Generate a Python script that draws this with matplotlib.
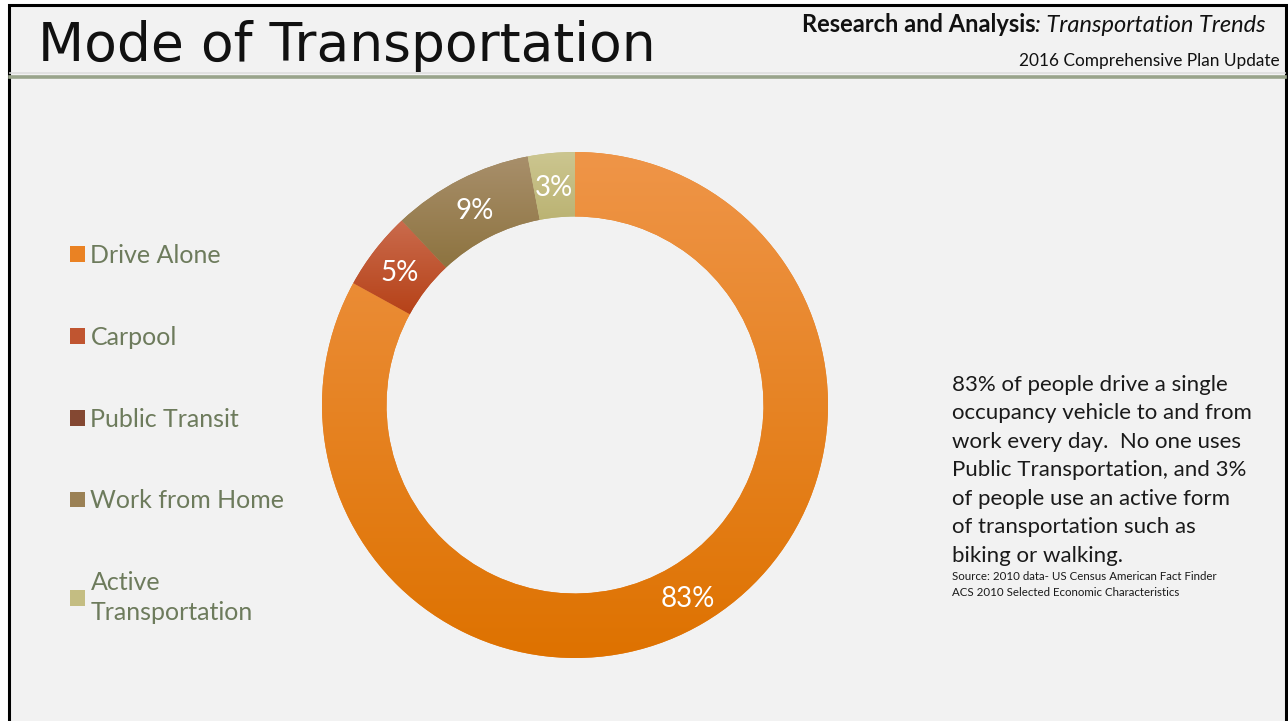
import matplotlib.pyplot as plt
import matplotlib.patches as mpatches
from matplotlib.colors import LinearSegmentedColormap
import numpy as np

# data
modes = ['Drive Alone', 'Carpool', 'Public Transit', 'Work from Home', 'Active\nTransportation']
shares = [83, 5, 0, 9, 3]
# (top, bottom) gradient colours for each wedge
grad_colors = [('#ef9548', '#de7200'),
               ('#ca6b4d', '#b64218'),
               ('#8e5542', '#7a3b24'),
               ('#a88f6b', '#8d733f'),
               ('#ccc690', '#bbb373')]
flat_colors = ['#ea8223', '#c05530', '#844832', '#9b8155', '#c4bd82']

summary = ("83% of people drive a single\n"
           "occupancy vehicle to and from\n"
           "work every day.  No one uses\n"
           "Public Transportation, and 3%\n"
           "of people use an active form\n"
           "of transportation such as\n"
           "biking or walking.")
source = "Source: 2010 data- US Census American Fact Finder\nACS 2010 Selected Economic Characteristics"

W, H = 1288, 721
plt.rcParams['font.family'] = ['Lato', 'DejaVu Sans']


def px(x, y):
    return x / W, 1 - y / H


fig = plt.figure(figsize=(W / 100, H / 100), dpi=100, facecolor='white')

# slide background + border
bg = mpatches.Rectangle(px(9, 760), (1286 - 9) / W, (760 - 5) / H, transform=fig.transFigure,
                        facecolor='#f2f2f2', edgecolor='black', linewidth=2.2, zorder=-5)
fig.patches.append(bg)
fig.add_artist(plt.Line2D([10 / W, 1285 / W], [1 - 73 / H] * 2, color='#dedede', lw=1.2))
fig.add_artist(plt.Line2D([10 / W, 1285 / W], [1 - 76.5 / H] * 2, color='#99a48b', lw=2.6))

# header
fig.text(*px(38, 61), 'Mode of Transportation', fontsize=38.5, color='#111111',
         family='DejaVu Sans', ha='left', va='baseline')
t_it = fig.text(*px(1266, 32), ': Transportation Trends', fontsize=17, style='italic',
                color='#111111', ha='right', va='baseline')
fig.canvas.draw()
bb = t_it.get_window_extent(fig.canvas.get_renderer())
fig.text(bb.x0 / W, 1 - 32 / H, 'Research and Analysis', fontsize=17, fontweight='bold',
         color='#111111', ha='right', va='baseline')
fig.text(*px(1280, 66), '2016 Comprehensive Plan Update', fontsize=12.4, color='#111111',
         ha='right', va='baseline')

# donut
cx, cy, r = 575, 405, 253
ax = fig.add_axes([(cx - r) / W, 1 - (cy + r) / H, 2 * r / W, 2 * r / H])
wedges, _ = ax.pie(shares, colors=flat_colors, startangle=90, counterclock=False,
                   radius=1, wedgeprops=dict(width=0.255, edgecolor='none'))

grad = np.linspace(0, 1, 256).reshape(-1, 1)
for w, (c_top, c_bot), s in zip(wedges, grad_colors, shares):
    if s == 0:
        continue
    ext = w.get_path().get_extents()
    cmap = LinearSegmentedColormap.from_list('g', [c_top, c_bot])
    im = ax.imshow(grad, cmap=cmap, aspect='auto', origin='upper',
                   extent=[ext.x0, ext.x1, ext.y0, ext.y1], zorder=2)
    im.set_clip_path(w)

# percentage labels
total = sum(shares)
start = 90.0
for s in shares:
    if s > 0:
        mid = np.deg2rad(start - 360 * s / total / 2)
        rr = 0.875
        ax.text(rr * np.cos(mid), rr * np.sin(mid) - 0.014, f'{s}%', color='white',
                fontsize=20, ha='center', va='center', zorder=3)
    start -= 360 * s / total
ax.set_xlim(-1, 1)
ax.set_ylim(-1, 1)
ax.set_aspect('equal')
ax.axis('off')

# legend
handles = [mpatches.Patch(facecolor=c) for c in flat_colors]
leg = fig.legend(handles, modes, loc='upper left', bbox_to_anchor=px(60, 234), frameon=False,
                 fontsize=18, labelcolor='#6d7b5c', handlelength=0.6, handleheight=0.6,
                 handletextpad=0.22, labelspacing=2.35, borderaxespad=0)
leg.get_texts()[-1].set_linespacing(1.35)

# side text
fig.text(*px(952, 375), summary, fontsize=16, color='#1a1a1a', ha='left', va='top',
         linespacing=1.53)
fig.text(*px(952, 571), source, fontsize=8.3, color='#1a1a1a', ha='left', va='top',
         linespacing=1.5)

fig.savefig('out.png', dpi=100, facecolor='white')
